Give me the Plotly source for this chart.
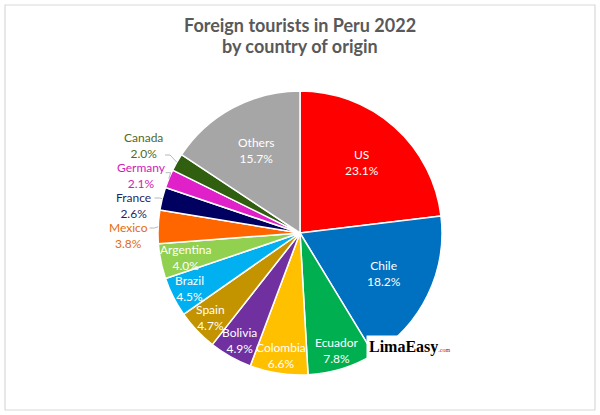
import math
import plotly.graph_objects as go

# Foreign tourists in Peru 2022, share by country of origin (%)
countries = ["US", "Chile", "Ecuador", "Colombia", "Bolivia", "Spain", "Brazil",
             "Argentina", "Mexico", "France", "Germany", "Canada", "Others"]
shares = [23.1, 18.2, 7.8, 6.6, 4.9, 4.7, 4.5, 4.0, 3.8, 2.6, 2.1, 2.0, 15.7]
slice_colors = ["#FF0000", "#0070C0", "#00B050", "#FFC000", "#7030A0", "#C49300",
                "#00B0F0", "#92D050", "#FF6600", "#000060", "#E020C8", "#2F5F0F",
                "#A6A6A6"]
outside = {"Mexico": "#E46C0A", "France": "#1F1F6B", "Germany": "#D020B8",
           "Canada": "#4F6A28"}

W, H = 600, 415
CX, CY, R = 300, 233, 142
FONT = "Lato, 'Open Sans', sans-serif"

fig = go.Figure()
fig.add_trace(go.Pie(
    labels=countries, values=shares, sort=False, direction="clockwise",
    rotation=0, textinfo="none", hovertemplate="%{label}: %{value}%<extra></extra>",
    marker=dict(colors=slice_colors, line=dict(color="white", width=1.5)),
    domain=dict(x=[(CX - R) / W, (CX + R) / W],
                y=[(H - CY - R) / H, (H - CY + R) / H]),
    showlegend=False,
))

annotations = []
shapes = []

# mid angle of each slice (clockwise from 12 o'clock)
mids = {}
cum = 0.0
for name, pct in zip(countries, shares):
    mids[name] = (cum + pct / 2) / 100 * 2 * math.pi
    cum += pct

# inside labels, kept within the circle like Excel's best fit
for name, pct in zip(countries, shares):
    if name in outside:
        continue
    ang = mids[name]
    sx, sy = math.sin(ang), -math.cos(ang)
    rf = 0.66 if pct > 10 else 0.87
    dx, dy = sx * R * rf, sy * R * rf
    halfw = max(len(name), 5) * 2.8
    lim = math.sqrt(max(R * R - dy * dy, 0)) - halfw - 1
    dx = max(-lim, min(lim, dx))
    annotations.append(dict(x=CX + dx, y=CY + dy, text=f"{name}<br>{pct:.1f}%",
                            showarrow=False, xref="x", yref="y",
                            font=dict(family=FONT, size=12, color="white")))

# outside labels, stacked from the top down so they don't overlap
last_y = None
for name in ["Canada", "Germany", "France", "Mexico"]:
    ang = mids[name]
    sx, sy = math.sin(ang), -math.cos(ang)
    pct = shares[countries.index(name)]
    lx = min(CX + sx * R * 1.21, CX - R * 1.1)
    ly = CY + sy * R * 1.23
    if last_y is not None and ly < last_y + 30:
        ly = last_y + 30
    last_y = ly
    annotations.append(dict(x=lx, y=ly, text=f"{name}<br>{pct:.1f}%", showarrow=False,
                            xref="x", yref="y",
                            font=dict(family=FONT, size=12, color=outside[name])))
    rim_x, rim_y = CX + sx * R, CY + sy * R
    ay = max(ly - 8, min(ly + 9, rim_y - 6))
    ax = lx + len(name) * 3.2 + 2
    shapes.append(dict(type="path", xref="x", yref="y",
                       path=f"M{rim_x:.1f},{rim_y:.1f} L{ax + 5:.1f},{ay:.1f} L{ax:.1f},{ay:.1f}",
                       line=dict(color="#A6A6A6", width=0.8)))

# chart frame
shapes.append(dict(type="rect", xref="x", yref="y", x0=5, y0=5, x1=595, y1=410,
                   line=dict(color="#D9D9D9", width=1.2), layer="below"))

# title, two lines
for txt, ty in [("Foreign tourists in Peru 2022", 25), ("by country of origin", 46)]:
    annotations.append(dict(x=300, y=ty, xref="x", yref="y", showarrow=False,
                            text=f"<b>{txt}</b>",
                            font=dict(family=FONT, size=18, color="#595959")))

# logo
annotations.append(dict(x=410, y=347, xref="x", yref="y", showarrow=False,
                        text="<b>LimaEasy</b><span style='font-size:6px;color:#C00000'>.com</span>",
                        bgcolor="white", borderpad=2,
                        font=dict(family="'Liberation Serif', serif", size=16, color="black")))

fig.update_layout(
    width=W, height=H,
    margin=dict(l=0, r=0, t=0, b=0),
    paper_bgcolor="white", plot_bgcolor="rgba(0,0,0,0)",
    xaxis=dict(range=[0, W], visible=False, fixedrange=True),
    yaxis=dict(range=[H, 0], visible=False, fixedrange=True),
    annotations=annotations,
    shapes=shapes,
)

fig.write_html("out.html", config={"displayModeBar": False},
               post_script="document.body.style.margin='0';")
